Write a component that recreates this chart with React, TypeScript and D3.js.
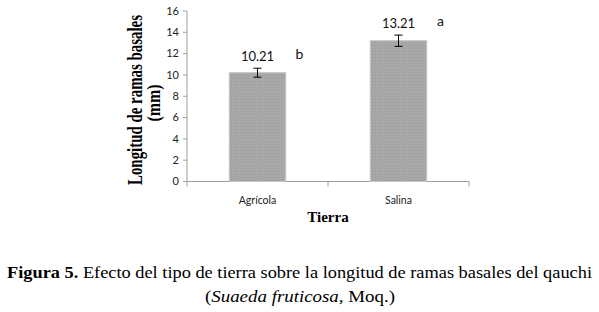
import React from "react";
import * as d3 from "d3";

const categories = ["Agrícola", "Salina"];
const means = [10.21, 13.21];
const errors = [0.42, 0.53];
const letters = ["b", "a"];
const yTicks = [0, 2, 4, 6, 8, 10, 12, 14, 16];

const W = 599;
const H = 312;
const M = { left: 187, right: 469, top: 11, bottom: 181.5 };

export default function App() {
  const x = d3.scaleBand<string>().domain(categories).range([M.left, M.right]).paddingInner(0.6).paddingOuter(0.3);
  const band = d3.scaleBand<string>().domain(categories).range([M.left, M.right]);
  const y = d3.scaleLinear().domain([0, 16]).range([M.bottom, M.top]);
  const sans = "Lato, 'Open Sans', sans-serif";
  const serif = "'Liberation Serif', 'Times New Roman', serif";
  const axisColor = "#a0a0a0";
  const xTickPositions = [M.left, ...categories.map((c) => band(c)! + band.bandwidth())];

  return (
    <svg width={W} height={H} style={{ position: "absolute", left: 0, top: 0, background: "#fff" }}>
      <defs>
        <pattern id="dots" width="3" height="3" patternUnits="userSpaceOnUse">
          <rect width="3" height="3" fill="#a8a8a8" />
          <rect width="1" height="1" fill="#9a9a9a" />
        </pattern>
      </defs>
      {/* y axis */}
      <line x1={M.left} x2={M.left} y1={y(16)} y2={y(0)} stroke={axisColor} />
      {yTicks.map((t) => (
        <g key={t}>
          <line x1={M.left - 4} x2={M.left} y1={y(t)} y2={y(t)} stroke={axisColor} />
          <text x={M.left - 8} y={y(t)} dy="0.35em" textAnchor="end" fontFamily={sans} fontSize={11} fill="#222">
            {t}
          </text>
        </g>
      ))}
      {/* x axis */}
      <line x1={M.left} x2={M.right} y1={y(0)} y2={y(0)} stroke={axisColor} />
      {xTickPositions.map((p, i) => (
        <line key={i} x1={p} x2={p} y1={y(0)} y2={y(0) + 5} stroke={axisColor} />
      ))}
      {/* bars */}
      {categories.map((c, i) => {
        const cx = x(c)! + x.bandwidth() / 2;
        return (
          <g key={c}>
            <rect x={x(c)} y={y(means[i])} width={x.bandwidth()} height={y(0) - y(means[i])} fill="url(#dots)" stroke="#c4c4c4" strokeWidth={1} />
            <line x1={cx} x2={cx} y1={y(means[i] + errors[i])} y2={y(means[i] - errors[i])} stroke="#000" strokeWidth={1} />
            <line x1={cx - 4} x2={cx + 4} y1={y(means[i] + errors[i])} y2={y(means[i] + errors[i])} stroke="#000" strokeWidth={1} />
            <line x1={cx - 4} x2={cx + 4} y1={y(means[i] - errors[i])} y2={y(means[i] - errors[i])} stroke="#000" strokeWidth={1} />
            <text x={cx} y={y(means[i] + errors[i]) - 7} textAnchor="middle" fontFamily={sans} fontSize={13} fill="#111">
              {means[i].toFixed(2)}
            </text>
            <text x={cx + 42} y={y(means[i] + errors[i]) - 9} textAnchor="middle" fontFamily={sans} fontSize={14} fill="#111">
              {letters[i]}
            </text>
            <text x={cx} y={y(0) + 22} textAnchor="middle" fontFamily={sans} fontSize={10.5} fill="#222">
              {c}
            </text>
          </g>
        );
      })}
      {/* x title */}
      <text x={(M.left + M.right) / 2} y={222} textAnchor="middle" fontFamily={serif} fontWeight="bold" fontSize={15} fill="#000">
        Tierra
      </text>
      {/* y title */}
      <g transform={`translate(142, 100) rotate(-90)`}>
        <text x={0} y={0} textAnchor="middle" fontFamily={serif} fontWeight="bold" fontSize={20} textLength={170} lengthAdjust="spacingAndGlyphs" fill="#000">
          Longitud de ramas basales
        </text>
      </g>
      <g transform={`translate(160, 103) rotate(-90)`}>
        <text x={0} y={0} textAnchor="middle" fontFamily={serif} fontWeight="bold" fontSize={19} textLength={37} lengthAdjust="spacingAndGlyphs" fill="#000">
          (mm)
        </text>
      </g>
      {/* caption */}
      <text x={299.5} y={278} textAnchor="middle" fontFamily={serif} fontSize={17.5} textLength={585} lengthAdjust="spacingAndGlyphs" fill="#000">
        <tspan fontWeight="bold">Figura 5.</tspan> Efecto del tipo de tierra sobre la longitud de ramas basales del qauchi
      </text>
      <text x={300} y={302} textAnchor="middle" fontFamily={serif} fontSize={17.5} textLength={190} lengthAdjust="spacingAndGlyphs" fill="#000">
        (<tspan fontStyle="italic">Suaeda fruticosa,</tspan> Moq.)
      </text>
    </svg>
  );
}
